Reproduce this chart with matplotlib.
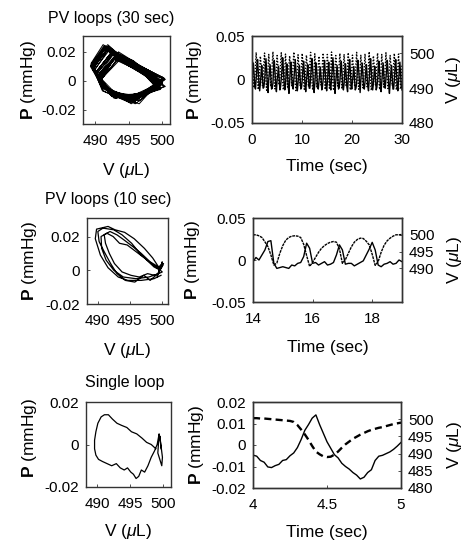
import numpy as np
import matplotlib
matplotlib.use("Agg")
import matplotlib.pyplot as plt

plt.rcParams["font.family"] = ["Liberation Sans", "DejaVu Sans"]
plt.rcParams["mathtext.fontset"] = "custom"
plt.rcParams["mathtext.it"] = "Liberation Sans:italic"
plt.rcParams["mathtext.rm"] = "Liberation Sans"
plt.rcParams["mathtext.bf"] = "Liberation Sans:bold"

# ---- 30 sec recording (6 samples per beat, 36 beats) ----
p30 = [
    -0.003, 0.010, 0.019, 0.006, -0.008, -0.011,   0.001, 0.013, 0.023, 0.009, -0.005, -0.013,
    -0.005, 0.007, 0.016, 0.002, -0.010, -0.009,  -0.002, 0.012, 0.024, 0.011, -0.007, -0.015,
     0.000, 0.008, 0.017, 0.004, -0.011, -0.010,  -0.004, 0.014, 0.022, 0.008, -0.006, -0.014,
    -0.001, 0.006, 0.015, 0.000, -0.012, -0.008,   0.002, 0.011, 0.025, 0.012, -0.004, -0.012,
    -0.006, 0.009, 0.018, 0.005, -0.009, -0.016,  -0.002, 0.013, 0.020, 0.003, -0.008, -0.011,
     0.001, 0.010, 0.023, 0.010, -0.006, -0.013,  -0.004, 0.007, 0.016, 0.001, -0.011, -0.009,
    -0.001, 0.012, 0.021, 0.008, -0.005, -0.014,  -0.003, 0.008, 0.017, 0.004, -0.010, -0.010,
     0.002, 0.014, 0.024, 0.011, -0.007, -0.015,  -0.005, 0.009, 0.019, 0.006, -0.009, -0.011,
    -0.002, 0.006, 0.014, 0.001, -0.012, -0.008,   0.000, 0.012, 0.022, 0.009, -0.006, -0.013,
    -0.004, 0.010, 0.020, 0.005, -0.008, -0.012,   0.001, 0.013, 0.025, 0.012, -0.004, -0.016,
    -0.003, 0.007, 0.016, 0.002, -0.011, -0.009,  -0.001, 0.011, 0.021, 0.007, -0.007, -0.012,
    -0.005, 0.009, 0.018, 0.004, -0.009, -0.014,   0.002, 0.014, 0.023, 0.010, -0.005, -0.011,
    -0.002, 0.006, 0.015, 0.000, -0.012, -0.010,  -0.004, 0.012, 0.022, 0.009, -0.006, -0.015,
     0.000, 0.010, 0.019, 0.006, -0.010, -0.011,  -0.003, 0.008, 0.017, 0.003, -0.008, -0.013,
     0.001, 0.013, 0.024, 0.011, -0.005, -0.012,  -0.005, 0.007, 0.015, 0.001, -0.012, -0.009,
    -0.001, 0.012, 0.021, 0.008, -0.006, -0.014,  -0.003, 0.009, 0.019, 0.005, -0.009, -0.010,
     0.002, 0.011, 0.022, 0.007, -0.007, -0.016,  -0.004, 0.008, 0.016, 0.002, -0.011, -0.011,
    -0.001, 0.013, 0.023, 0.010, -0.005, -0.013,  -0.002, 0.010, 0.020, 0.006, -0.008, -0.012,
]
v30 = [
    499.6, 496.2, 492.4, 490.1, 492.3, 496.4,   500.3, 495.4, 491.6, 489.6, 491.5, 495.8,
    499.2, 496.8, 493.1, 490.7, 492.8, 497.1,   500.1, 495.1, 492.0, 489.4, 491.2, 495.3,
    499.7, 496.5, 493.4, 490.5, 492.6, 496.9,   500.5, 495.7, 491.3, 489.8, 491.8, 495.6,
    499.4, 497.0, 492.8, 490.9, 493.0, 497.4,   500.2, 495.3, 491.9, 489.5, 491.4, 495.2,
    499.8, 496.4, 492.6, 490.3, 492.1, 496.6,   499.3, 495.9, 493.5, 490.6, 492.9, 497.0,
    500.4, 495.2, 491.4, 489.3, 491.3, 495.5,   499.6, 496.7, 492.9, 490.8, 492.5, 496.8,
    500.0, 495.6, 491.7, 489.7, 491.6, 495.9,   499.5, 496.9, 493.2, 490.4, 492.7, 497.3,
    500.3, 495.0, 491.5, 489.5, 491.1, 495.1,   499.9, 496.3, 492.3, 490.2, 492.2, 496.5,
    499.2, 496.6, 493.6, 490.9, 493.1, 497.2,   500.1, 495.5, 491.8, 489.6, 491.7, 495.7,
    499.7, 496.1, 492.5, 490.0, 492.0, 496.3,   500.4, 495.8, 491.2, 489.4, 491.5, 495.4,
    499.4, 497.1, 493.0, 490.6, 492.9, 497.0,   500.0, 495.4, 492.1, 489.8, 491.9, 495.9,
    499.8, 496.5, 492.7, 490.5, 492.4, 496.7,   500.2, 495.2, 491.6, 489.5, 491.3, 495.3,
    499.5, 496.8, 493.3, 490.8, 492.8, 497.1,   500.3, 495.6, 491.9, 489.7, 491.6, 495.8,
    499.6, 496.2, 492.4, 490.1, 492.3, 496.4,   499.9, 495.9, 492.9, 490.4, 492.6, 496.8,
    500.5, 495.1, 491.3, 489.4, 491.2, 495.2,   499.3, 496.9, 493.5, 490.9, 493.0, 497.3,
    500.1, 495.5, 491.7, 489.6, 491.7, 495.6,   499.7, 496.4, 492.6, 490.3, 492.2, 496.5,
    500.2, 495.7, 492.0, 489.9, 491.9, 496.0,   499.4, 496.7, 493.1, 490.7, 492.7, 497.0,
    500.0, 495.3, 491.5, 489.5, 491.4, 495.4,   499.8, 496.3, 492.5, 490.2, 492.1, 496.6,
]

# ---- 10 sec loops (V, P pairs) ----
loop10_v = [
    499.9, 498.8, 496.8, 494.7, 493.2, 491.6, 490.4, 489.6, 489.8, 491.6, 492.7,
    494.2, 495.7, 497.3, 498.6, 499.6, 499.5, 498.0, 496.0, 494.0, 492.5, 491.3,
    490.6, 490.5, 491.4, 492.4, 493.4, 494.6, 496.0, 497.4, 498.8, 499.8, 500.1,
    498.9, 497.8, 496.5, 495.2, 493.8, 492.6, 491.8, 491.2, 491.0, 491.9, 493.0,
    494.1, 495.5, 496.8, 498.2, 499.5, 500.3, 499.4, 498.2, 497.2, 495.8, 494.3,
    493.0, 492.0, 491.0, 490.2, 490.0, 490.8, 492.5, 493.8, 495.3, 496.8, 498.4,
    499.5, 500.2, 499.6, 500.1, 499.3,
]
loop10_p = [
    -0.003, -0.005, -0.006, -0.006, -0.004, 0.0015, 0.009, 0.0187, 0.0244, 0.026, 0.024,
    0.0225, 0.0187, 0.013, 0.0073, 0.0015, -0.002, -0.004, -0.005, -0.004, 0.000, 0.006,
    0.013, 0.020, 0.022, 0.020, 0.016, 0.015, 0.011, 0.007, 0.002, 0.000, -0.001,
    -0.003, -0.002, -0.004, -0.003, -0.001, 0.004, 0.010, 0.016, 0.021, 0.023, 0.021,
    0.018, 0.014, 0.010, 0.005, 0.002, 0.004, -0.002, -0.006, -0.003, -0.007, -0.006,
    -0.002, 0.004, 0.011, 0.017, 0.023, 0.025, 0.024, 0.021, 0.016, 0.009, 0.004,
    0.001, 0.003, -0.001, 0.005, -0.004,
]

# ---- 14-19 sec traces (0.1 s samples) ----
p10 = [
    -0.002, 0.003, 0.000, 0.006, 0.012, 0.022, 0.023, -0.004, -0.010, -0.009,
    -0.008, -0.009, -0.010, -0.006, -0.007, -0.004, -0.003, 0.004, 0.020, 0.014,
    -0.004, -0.003, -0.006, -0.004, -0.002, -0.006, -0.005, -0.003, 0.006, 0.018,
    0.012, -0.005, -0.004, -0.004, -0.007, -0.005, -0.003, -0.001, 0.006, 0.013,
    0.021, 0.012, -0.006, -0.008, -0.005, -0.004, -0.002, -0.005, -0.004, 0.000,
    -0.002,
]
v10 = [
    500.0, 500.0, 499.7, 499.2, 497.9, 496.5, 494.0, 491.0, 491.6, 494.5,
    496.8, 498.4, 499.2, 499.6, 499.7, 499.6, 499.2, 497.2, 493.8, 490.6,
    491.8, 493.3, 494.8, 496.0, 496.8, 497.4, 497.8, 498.0, 497.8, 495.8,
    491.5, 492.6, 494.5, 496.4, 497.8, 498.6, 499.0, 498.9, 498.1, 497.0,
    494.2, 490.9, 492.0, 494.8, 496.9, 498.2, 499.0, 499.6, 500.0, 500.0,
    500.1,
]

# ---- single loop ----
loop1_v = [
    498.9, 498.2, 497.5, 496.8, 496.0, 495.2, 494.5, 493.7, 493.0, 492.3, 491.7,
    491.1, 490.6, 490.1, 489.8, 489.6, 489.6, 489.8, 490.2, 490.8, 491.5, 492.2,
    492.9, 493.5, 494.1, 494.6, 495.1, 495.5, 495.9, 496.3, 496.7, 497.2, 497.7,
    498.2, 498.7, 499.1, 499.4, 499.2, 499.8, 499.9, 499.5, 499.7,
]
loop1_p = [
    -0.002, 0.000, 0.001, 0.003, 0.005, 0.006, 0.008, 0.009, 0.010, 0.012, 0.014,
    0.014, 0.013, 0.010, 0.006, 0.002, -0.002, -0.005, -0.007, -0.008, -0.009, -0.010,
    -0.009, -0.011, -0.012, -0.011, -0.013, -0.014, -0.016, -0.015, -0.012, -0.013, -0.010,
    -0.006, -0.003, 0.000, 0.005, -0.004, -0.010, -0.006, 0.004, -0.002,
]

# ---- 4-5 sec traces (0.025 s samples) ----
p1 = [
    -0.0047, -0.0052, -0.0072, -0.0080, -0.0102, -0.0105, -0.0096, -0.0090, -0.0072,
    -0.0068, -0.0050, -0.0037, -0.0012, 0.0025, 0.0068, 0.0095, 0.0125, 0.0140,
    0.0095, 0.0055, 0.0015, -0.0015, -0.0045, -0.0060, -0.0085, -0.0100, -0.0112,
    -0.0128, -0.0140, -0.0158, -0.0150, -0.0128, -0.0115, -0.0072, -0.0052, -0.0048,
    -0.0040, -0.0032, -0.0020, -0.0005, 0.0012,
]
v1 = [
    500.3, 500.3, 500.2, 500.2, 500.1, 500.0, 499.9, 499.8, 499.7, 499.6, 499.5,
    499.2, 498.3, 497.0, 495.6, 494.0, 492.2, 490.6, 489.8, 489.2, 489.0, 489.1,
    489.7, 490.6, 491.7, 492.7, 493.5, 494.3, 494.9, 495.5, 496.0, 496.5, 496.9,
    497.2, 497.5, 497.7, 498.0, 498.3, 498.6, 498.8, 499.0,
]

t30 = np.linspace(0, 30, len(p30))
t10 = np.linspace(14, 19, len(p10))
t1 = np.linspace(4, 5, len(p1))

P_LABEL = r"$\mathbf{P}$ (mmHg)"
V_LABEL = r"V ($\mu$L)"
T_LABEL = "Time (sec)"
W, H = 473, 543


def place(x0, y0, x1, y1):
    # pixel box (top-left origin) -> figure fraction
    return [x0 / W, 1 - y1 / H, (x1 - x0) / W, (y1 - y0) / H]


def style(ax):
    for s in ax.spines.values():
        s.set_color("#333333")
        s.set_linewidth(1.0)
    ax.tick_params(direction="in", length=2.5, width=0.6, colors="#333333",
                   labelcolor="black", labelsize=11)
    ax.tick_params(axis="x", pad=7)
    ax.tick_params(axis="y", pad=5)


def loop_panel(ax, vx, py, ylim, yticks, ylabels, xlim, ylab_x, xlab_y, ylab_y=0.5, lw=0.9):
    ax.plot(vx, py, color="black", lw=lw)
    ax.set_xlim(*xlim)
    ax.set_ylim(*ylim)
    ax.set_xticks([490, 495, 500], ["490", "495", "500"])
    ax.set_yticks(yticks, ylabels)
    ax.set_ylabel(P_LABEL, fontsize=12.5)
    ax.set_xlabel(V_LABEL, fontsize=12.5)
    ax.yaxis.set_label_coords(ylab_x, ylab_y)
    ax.xaxis.set_label_coords(0.5, xlab_y)
    style(ax)


def trace_panel(ax, t, p, v, xlim, xticks, xlabels, pyl, pticks, plabels,
                vticks, vstyle, vlw, labx, rlabx, xlab_y):
    ax.plot(t, p, color="black", lw=1.0)
    ax.set_xlim(*xlim)
    ax.set_ylim(*pyl)
    ax.set_xticks(xticks, xlabels)
    ax.set_yticks(pticks, plabels)
    ax.set_ylabel(P_LABEL, fontsize=12.5)
    ax.set_xlabel(T_LABEL, fontsize=12.5)
    ax.yaxis.set_label_coords(labx, 0.5)
    ax.xaxis.set_label_coords(0.5, xlab_y)
    style(ax)
    ax2 = ax.twinx()
    ax2.plot(t, v, color="black", lw=vlw, linestyle=vstyle)
    ax2.set_ylim(480, 505)
    ax2.set_yticks(vticks, [str(k) for k in vticks])
    ax2.set_ylabel(V_LABEL, fontsize=12.5)
    ax2.yaxis.set_label_coords(rlabx, 0.5)
    style(ax2)
    return ax2


fig = plt.figure(figsize=(W / 100, H / 100), dpi=100)

# row 1
ax = fig.add_axes(place(83, 36, 170, 124))
loop_panel(ax, v30, p30, (-0.03, 0.031), [-0.02, 0, 0.02], ["-0.02", "0", "0.02"],
           (488.2, 501.2), -0.52, -0.42, lw=0.7)
fig.text(111 / W, 1 - 19 / H, "PV loops (30 sec)", ha="center", va="center", fontsize=11.5)
ax = fig.add_axes(place(252, 36, 402, 123))
trace_panel(ax, t30, p30, v30, (0, 30), [0, 10, 20, 30], ["0", "10", "20", "30"],
            (-0.05, 0.05), [-0.05, 0, 0.05], ["-0.05", "0", "0.05"],
            [480, 490, 500], (0, (1, 1.2)), 1.0, -0.32, 1.28, -0.41)

# row 2
ax = fig.add_axes(place(87, 218, 168, 304))
loop_panel(ax, loop10_v, loop10_p, (-0.019, 0.031), [-0.02, 0, 0.02], ["-0.02", "0", "0.02"],
           (488.3, 501.0), -0.59, -0.43)
fig.text(108 / W, 1 - 199 / H, "PV loops (10 sec)", ha="center", va="center", fontsize=11.5)
ax = fig.add_axes(place(253, 218, 402, 302))
trace_panel(ax, t10, p10, v10, (14, 19), [14, 16, 18], ["14", "16", "18"],
            (-0.05, 0.05), [-0.05, 0, 0.05], ["-0.05", "0", "0.05"],
            [490, 495, 500], (0, (2, 0.6)), 1.0, -0.34, 1.29, -0.45)

# row 3
ax = fig.add_axes(place(86, 402, 171, 487))
loop_panel(ax, loop1_v, loop1_p, (-0.02, 0.02), [-0.02, 0, 0.02], ["-0.02", "0", "0.02"],
           (488.3, 501.2), -0.55, -0.41, ylab_y=0.58)
fig.text(125 / W, 1 - 382 / H, "Single loop", ha="center", va="center", fontsize=11.5)
ax = fig.add_axes(place(253, 402, 401, 488))
trace_panel(ax, t1, p1, v1, (4, 5), [4, 4.5, 5], ["4", "4.5", "5"],
            (-0.02, 0.02), [-0.02, -0.01, 0, 0.01, 0.02],
            ["-0.02", "-0.01", "0", "0.01", "0.02"],
            [480, 485, 490, 495, 500], (0, (3, 1.8)), 1.7, -0.32, 1.30, -0.43)

fig.savefig("out.png", dpi=100)
